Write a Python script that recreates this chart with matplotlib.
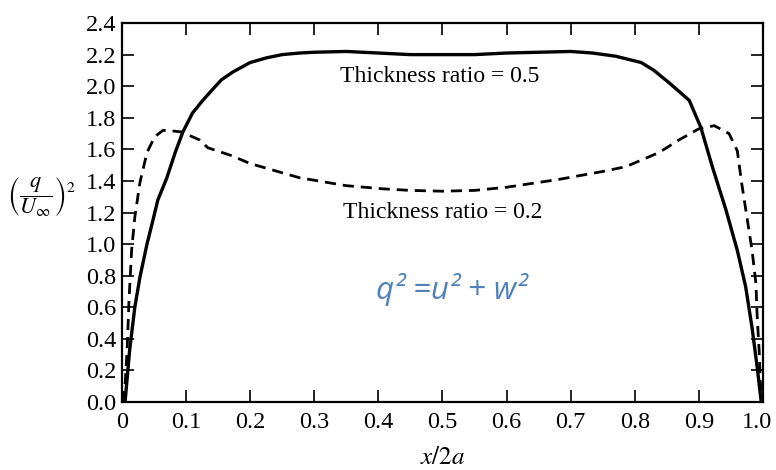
import numpy as np
import matplotlib
matplotlib.use("Agg")
import matplotlib.pyplot as plt
from matplotlib.transforms import ScaledTranslation

plt.rcParams.update({
    'font.family': 'Liberation Serif',
    'mathtext.fontset': 'stix',
    'font.size': 17,
})

# thickness ratio = 0.5 (solid)
x_thick = [0, 0.005, 0.012, 0.02, 0.028, 0.039, 0.047, 0.056, 0.07, 0.083, 0.095,
           0.11, 0.126, 0.137, 0.155, 0.173, 0.2, 0.226, 0.25, 0.277, 0.3, 0.35,
           0.4, 0.45, 0.5, 0.55, 0.6, 0.65, 0.7, 0.734, 0.77, 0.81, 0.83, 0.854,
           0.885, 0.903, 0.921, 0.942, 0.96, 0.973, 0.983, 0.991, 0.997, 1.0]
q_thick = [0, 0.01, 0.33, 0.60, 0.79, 1.00, 1.13, 1.28, 1.42, 1.58, 1.71,
           1.83, 1.91, 1.96, 2.04, 2.09, 2.15, 2.18, 2.20, 2.21, 2.215, 2.22,
           2.21, 2.20, 2.20, 2.20, 2.21, 2.215, 2.22, 2.21, 2.19, 2.15, 2.10, 2.02,
           1.91, 1.74, 1.49, 1.22, 0.96, 0.73, 0.47, 0.22, 0.01, 0]

# thickness ratio = 0.2 (dashed)
x_thin = [0, 0.005, 0.008, 0.011, 0.015, 0.02, 0.028, 0.039, 0.051, 0.064, 0.072,
          0.093, 0.121, 0.134, 0.171, 0.2, 0.277, 0.35, 0.407, 0.45, 0.5, 0.55,
          0.6, 0.682, 0.75, 0.786, 0.838, 0.869, 0.9, 0.924, 0.947, 0.96, 0.967,
          0.975, 0.983, 0.989, 0.991, 0.994, 0.996, 1.0]
q_thin = [0, 0.12, 0.33, 0.65, 0.96, 1.17, 1.39, 1.58, 1.68, 1.72, 1.72,
          1.71, 1.66, 1.61, 1.56, 1.51, 1.42, 1.37, 1.35, 1.34, 1.335, 1.34,
          1.36, 1.41, 1.46, 1.49, 1.58, 1.66, 1.73, 1.75, 1.70, 1.59, 1.38,
          1.17, 0.96, 0.75, 0.54, 0.33, 0.12, 0]

x_ticks = [0, 0.1, 0.2, 0.3, 0.4, 0.5, 0.6, 0.7, 0.8, 0.9, 1.0]
x_labels = ['0', '0.1', '0.2', '0.3', '0.4', '0.5', '0.6', '0.7', '0.8', '0.9', '1.0']
y_ticks = [0.0, 0.2, 0.4, 0.6, 0.8, 1.0, 1.2, 1.4, 1.6, 1.8, 2.0, 2.2, 2.4]

fig = plt.figure(figsize=(7.76, 4.70), dpi=100)
ax = fig.add_axes([0.1572, 0.1447, 0.8260, 0.8063])

ax.plot(x_thick, q_thick, color='black', linewidth=2.4, solid_capstyle='round')
ax.plot(x_thin, q_thin, color='black', linewidth=2.0, linestyle=(0, (4, 2.5)))

ax.set_xlim(0, 1.0)
ax.set_ylim(0, 2.4)
ax.set_xticks(x_ticks)
ax.set_xticklabels(x_labels)
ax.set_yticks(y_ticks)
ax.set_yticklabels([f"{v:.1f}" for v in y_ticks])

ax.tick_params(direction='in', length=8.5, width=1.2, top=True, right=True,
               labelsize=17.5)
ax.tick_params(axis='x', pad=7)
ax.tick_params(axis='y', pad=4)
for s in ax.spines.values():
    s.set_linewidth(1.6)

# nudge the last x label so it stays inside the canvas
last = ax.get_xticklabels()[-1]
last.set_transform(last.get_transform() + ScaledTranslation(-4 / 72, 0, fig.dpi_scale_trans))

ax.text(0.495, 2.06, "Thickness ratio = 0.5", ha='center', va='center', fontsize=17)
ax.text(0.50, 1.20, "Thickness ratio = 0.2", ha='center', va='center', fontsize=17)
ax.text(0.514, 0.71, "q² =u² + w²", ha='center', va='center', fontsize=22.5,
        color='#4F81BD', style='italic', family='Open Sans')

ax.set_xlabel(r"$x/2a$", fontsize=18, labelpad=10)
fig.text(0.054, 0.581, r"$\left(\dfrac{q}{U_\infty}\right)^2$", ha='center',
         va='center', fontsize=16)

fig.savefig("out.png", dpi=100)
